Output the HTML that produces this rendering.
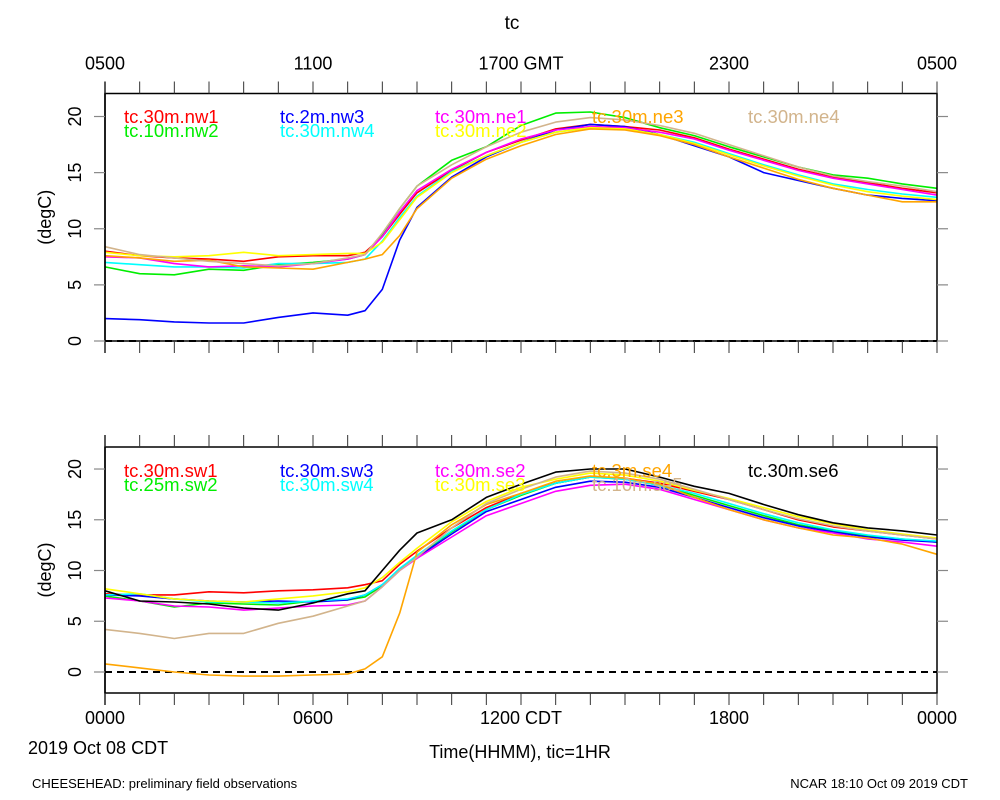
<!DOCTYPE html>
<html><head><meta charset="utf-8"><style>
body{margin:0;background:#fff}
svg{display:block;font-family:"Liberation Sans",Arial,sans-serif}
</style></head><body>
<svg id="chart" width="1000" height="800" viewBox="0 0 1000 800">
<text x="512" y="29" font-size="19" text-anchor="middle">tc</text>
<text x="32" y="788" font-size="13">CHEESEHEAD: preliminary field observations</text>
<text x="968" y="788" font-size="13" text-anchor="end">NCAR 18:10 Oct 09 2019 CDT</text>
<text x="28" y="754" font-size="18">2019 Oct 08 CDT</text>
<text x="520" y="758" font-size="18" text-anchor="middle">Time(HHMM), tic=1HR</text>
<g id="plots"></g>
</svg>
<script>
const hours=[0,1,2,3,4,5,6,7,7.5,8,8.5,9,10,11,12,13,14,15,16,17,18,19,20,21,22,23,24];
const topTickLabels=["0500","1100","1700 GMT","2300","0500"];
const botTickLabels=["0000","0600","1200 CDT","1800","0000"];
const yTicks=[0,5,10,15,20];
const topNames=["tc.30m.nw1","tc.10m.nw2","tc.2m.nw3","tc.30m.nw4","tc.30m.ne1","tc.30m.ne2","tc.30m.ne3","tc.30m.ne4"];
const topColors=["#ff0000","#00ee00","#0000ff","#00ffff","#ff00ff","#ffff00","#ffa500","#d2b48c"];
const nw1=[8.0,7.6,7.4,7.3,7.1,7.5,7.6,7.6,7.9,9.3,11.3,13.2,15.2,16.8,17.9,18.9,19.3,19.1,18.8,18.1,17.1,16.2,15.3,14.6,14.1,13.6,13.2];
const nw2=[6.6,6.0,5.9,6.4,6.3,6.8,7.0,7.3,7.7,9.5,11.8,13.8,16.1,17.3,19.2,20.3,20.4,19.9,19.0,18.3,17.3,16.4,15.5,14.8,14.5,14.0,13.6];
const nw3=[2.0,1.9,1.7,1.6,1.6,2.1,2.5,2.3,2.7,4.6,9.0,11.9,14.6,16.4,17.7,18.8,19.3,19.1,18.4,17.4,16.4,15.0,14.3,13.6,13.0,12.7,12.5];
const nw4=[7.0,6.8,6.6,6.6,6.5,6.9,6.9,7.0,7.3,8.9,11.0,12.9,15.1,16.5,17.7,18.6,19.0,18.9,18.4,17.7,16.7,15.7,14.8,14.0,13.5,13.1,12.8];
const ne1=[7.5,7.4,6.9,6.6,6.7,6.6,6.9,7.3,7.7,9.3,11.5,13.4,15.3,16.8,18.0,18.8,19.1,19.0,18.6,18.0,17.0,16.1,15.2,14.5,14.0,13.5,13.0];
const ne2=[7.9,7.6,7.5,7.6,7.9,7.6,7.7,7.8,7.8,8.8,10.8,12.8,15.0,16.5,17.7,18.6,19.0,18.9,18.4,17.6,16.6,15.6,14.7,13.9,13.3,12.9,12.6];
const ne3=[7.6,7.4,7.1,7.2,6.6,6.5,6.4,7.0,7.3,7.7,9.4,11.8,14.5,16.2,17.4,18.4,18.9,18.8,18.3,17.5,16.4,15.4,14.4,13.6,13.0,12.4,12.4];
const ne4=[8.4,7.7,7.4,7.1,6.9,6.7,6.9,7.4,7.7,9.6,11.8,13.8,15.7,17.3,18.6,19.5,19.9,19.7,19.2,18.5,17.5,16.5,15.5,14.7,14.2,13.8,13.3];
const botNames=["tc.30m.sw1","tc.25m.sw2","tc.30m.sw3","tc.30m.sw4","tc.30m.se2","tc.30m.se3","tc.3m.se4","tc.10m.se5","tc.30m.se6"];
const botColors=["#ff0000","#00ee00","#0000ff","#00ffff","#ff00ff","#ffff00","#ffa500","#d2b48c","#000000"];
const sw1=[7.7,7.6,7.6,7.9,7.8,8.0,8.1,8.3,8.6,9.0,10.6,11.9,14.2,16.2,17.6,18.6,19.2,19.1,18.6,17.8,17.0,16.0,15.0,14.3,13.9,13.5,13.1];
const sw2=[7.5,7.0,6.4,6.8,6.7,6.6,7.0,7.1,7.4,8.5,10.2,11.4,13.8,16.0,17.4,18.6,19.2,19.0,18.4,17.4,16.4,15.4,14.5,13.9,13.4,13.1,12.8];
const sw3=[7.6,7.5,7.2,7.0,6.9,7.0,6.9,7.1,7.6,8.6,10.1,11.3,13.6,15.8,17.0,18.2,18.8,18.7,18.2,17.2,16.2,15.2,14.4,13.8,13.3,13.0,12.8];
const sw4=[7.6,7.7,7.2,6.9,6.9,6.8,7.0,7.2,7.6,8.6,10.2,11.5,13.9,16.0,17.5,18.6,19.2,19.0,18.4,17.6,16.6,15.6,14.7,14.0,13.5,13.1,12.9];
const se2=[7.3,7.0,6.5,6.4,6.1,6.3,6.5,6.6,7.0,8.4,10.0,11.2,13.3,15.4,16.6,17.8,18.4,18.5,18.0,17.0,16.0,15.0,14.2,13.7,13.1,12.8,12.4];
const se3=[8.2,7.7,7.2,7.0,6.9,7.2,7.5,7.9,8.3,9.3,10.8,12.2,14.8,16.8,18.2,19.0,19.6,19.4,18.8,17.9,17.1,16.2,15.3,14.6,14.0,13.6,13.2];
const se4=[0.8,0.4,0.0,-0.3,-0.4,-0.4,-0.3,-0.2,0.3,1.5,5.8,11.8,14.5,16.5,17.6,18.8,19.3,19.1,18.5,17.2,16.0,15.0,14.2,13.5,13.2,12.6,11.6];
const se5=[4.2,3.8,3.3,3.8,3.8,4.8,5.5,6.5,7.0,8.4,10.0,11.3,14.2,16.6,18.0,19.2,19.8,19.6,19.0,18.0,17.0,16.0,15.1,14.4,13.9,13.5,13.1];
const se6=[8.0,7.0,6.9,6.7,6.3,6.1,6.8,7.7,8.0,10.0,12.0,13.7,15.0,17.2,18.5,19.7,20.0,20.0,19.2,18.3,17.6,16.5,15.5,14.7,14.2,13.9,13.5];
const topSeries=[nw1,nw2,nw3,nw4,ne1,ne2,ne3,ne4];
const botSeries=[sw1,sw2,sw3,sw4,se2,se3,se4,se5,se6];

const NS="http://www.w3.org/2000/svg";
const root=document.getElementById('plots');
function mk(tag,attrs,parent){const e=document.createElementNS(NS,tag);for(const k in attrs)e.setAttribute(k,attrs[k]);(parent||root).appendChild(e);return e;}
const X0=105,X1=937;
function xs(h){return X0+(X1-X0)*h/24;}

function panel(id,top,bottom,ymin,ymax,series,names,colors,tickLabels,labelsAbove,legY){
  const g=mk('g',{});
  
  
  const ys=v=>bottom-(bottom-top)*(v-ymin)/(ymax-ymin);
  // zero line
  const z=mk('line',{x1:X0,x2:X1,y1:ys(0),y2:ys(0),stroke:'#000','stroke-width':2,'stroke-dasharray':'7,5'},g);
  
  
  // series
  series.forEach((s,i)=>{
    const d=s.map((v,j)=>(j?'L':'M')+xs(hours[j]).toFixed(1)+','+ys(v).toFixed(1)).join('');
    const p=mk('path',{d:d,fill:'none',stroke:colors[i],'stroke-width':1.6,'stroke-linejoin':'round'},g);
    
    
  });
  // box
  const b=mk('rect',{x:X0,y:top,width:X1-X0,height:bottom-top,fill:'none',stroke:'#000','stroke-width':1.5},g);
  
  
  mk('line',{x1:X0,x2:X0,y1:top-12,y2:bottom+12,stroke:'#000','stroke-width':1.5},g);
  // x ticks
  for(let h=0;h<=24;h++){
    const x=xs(h);
    const t1=mk('line',{x1:x,x2:x,y1:top-12,y2:top,stroke:'#333','stroke-width':1},g);
    
    
    const t2=mk('line',{x1:x,x2:x,y1:bottom,y2:bottom+12,stroke:'#333','stroke-width':1},g);
    
    
  }
  tickLabels.forEach((l,i)=>{
    const t=mk('text',{x:xs(i*6),y:labelsAbove?top-24:bottom+31,'font-size':18,'text-anchor':'middle'},g);
    t.textContent=l;
    
    
  });
  // y ticks
  yTicks.forEach(v=>{
    const y=ys(v);
    const a=mk('line',{x1:X0-11,x2:X0,y1:y,y2:y,stroke:'#888','stroke-width':1.2},g);
    
    
    const c=mk('line',{x1:X1,x2:X1+11,y1:y,y2:y,stroke:'#888','stroke-width':1.2},g);
    
    
    const t=mk('text',{x:0,y:0,'font-size':18,'text-anchor':'middle',transform:'translate(81,'+y+') rotate(-90)'},g);
    t.textContent=String(v);
    
    
  });
  const yl=mk('text',{x:0,y:0,'font-size':18,'text-anchor':'middle',transform:'translate(51,'+((top+bottom)/2)+') rotate(-90)'},g);
  yl.textContent='(degC)';
  
  
  // legend
  const cols=[124,280,435,592,748];
  names.forEach((n,i)=>{
    let c=Math.floor(i/2),r=i%2;
    if(i===8){c=4;r=0;}
    if(i===7&&names.length===8){c=4;r=0;}
    const t=mk('text',{x:cols[c],y:legY+r*14,'font-size':18.5,fill:colors[i]},g);
    t.textContent=n;
    
    
  });
}
panel('top',93.5,341,0,22.05,topSeries,topNames,topColors,topTickLabels,true,123);
panel('bottom',447,693,-2.07,22.17,botSeries,botNames,botColors,botTickLabels,false,477);
</script>
</body></html>
